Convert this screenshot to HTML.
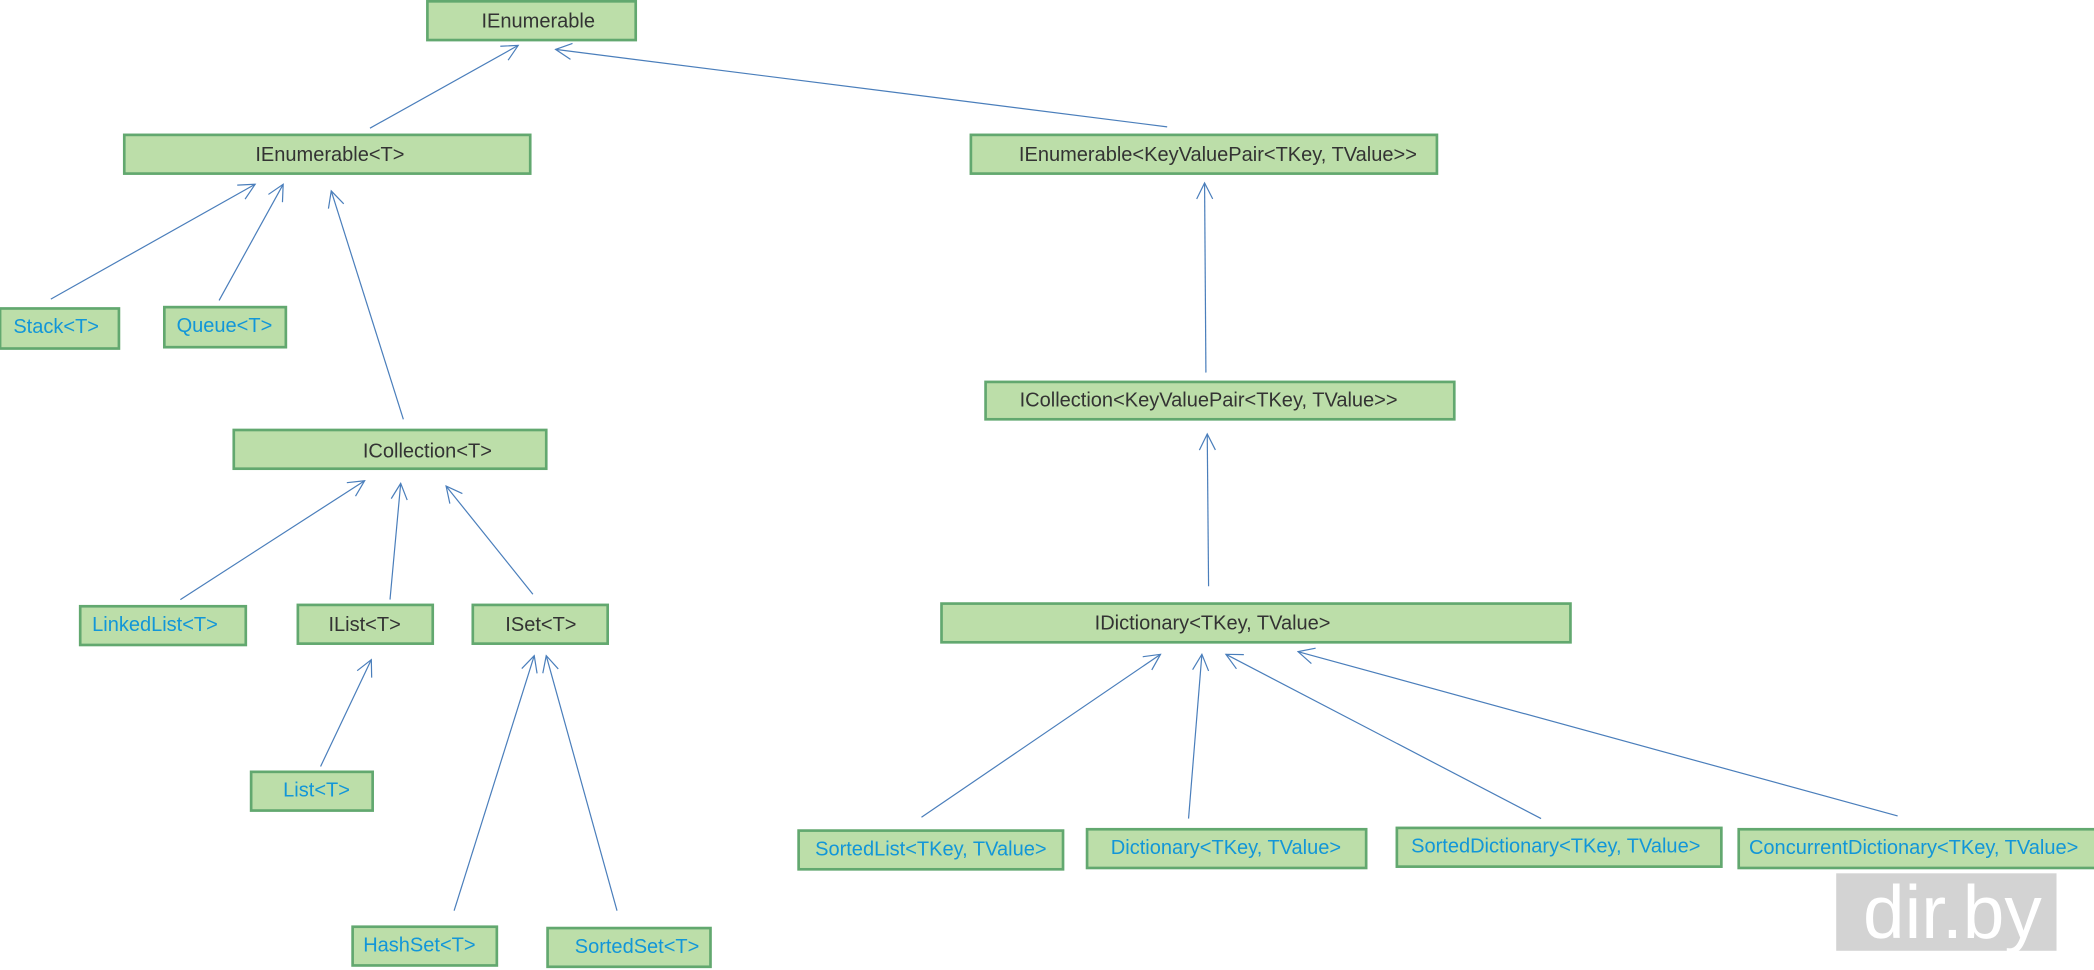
<!DOCTYPE html>
<html><head><meta charset="utf-8"><style>
html,body{margin:0;padding:0;background:#fff;}
svg{display:block;}
text{font-family:"Liberation Sans",Arial,sans-serif;font-size:15px;text-anchor:middle;dominant-baseline:central;}
.b{fill:#bcdea9;stroke:#62a86f;stroke-width:2;}
.d{fill:#333;}
.c{fill:#1296d8;}
.l{stroke:#4a7ebb;stroke-width:0.9;fill:none;marker-end:url(#a);}
</style></head><body>
<svg width="2094" height="970" viewBox="0 0 1568 726.4" xmlns="http://www.w3.org/2000/svg">
<defs><marker id="a" markerWidth="14" markerHeight="14" refX="13" refY="7" orient="auto" markerUnits="userSpaceOnUse"><path d="M1,1 L13,7 L1,13" fill="none" stroke="#4a7ebb" stroke-width="0.9"/></marker></defs>
<rect x="1375" y="654" width="165" height="58" fill="#d3d3d3"/>
<text x="1462" y="683" style="font-size:56px;fill:#fff">dir.by</text>

<line class="l" x1="277" y1="96" x2="388" y2="34"/>
<line class="l" x1="874" y1="95" x2="416" y2="37"/>
<line class="l" x1="38" y1="224" x2="191" y2="138"/>
<line class="l" x1="164" y1="225" x2="212" y2="138"/>
<line class="l" x1="302" y1="314" x2="248" y2="143"/>
<line class="l" x1="903" y1="279" x2="902" y2="137"/>
<line class="l" x1="135" y1="449" x2="273" y2="360"/>
<line class="l" x1="292" y1="449" x2="300" y2="362"/>
<line class="l" x1="399" y1="445" x2="334" y2="364"/>
<line class="l" x1="905" y1="439" x2="904" y2="325"/>
<line class="l" x1="240" y1="574" x2="278" y2="494"/>
<line class="l" x1="340" y1="682" x2="400" y2="491"/>
<line class="l" x1="462" y1="682" x2="409" y2="491"/>
<line class="l" x1="690" y1="612" x2="869" y2="490"/>
<line class="l" x1="890" y1="613" x2="900" y2="490"/>
<line class="l" x1="1154" y1="613" x2="918" y2="490"/>
<line class="l" x1="1421" y1="611" x2="972" y2="488"/>

<rect class="b" x="320" y="1" width="156" height="29"/><text class="d" x="403" y="16">IEnumerable</text>
<rect class="b" x="93" y="101" width="304" height="29"/><text class="d" x="247" y="116">IEnumerable&lt;T&gt;</text>
<rect class="b" x="727" y="101" width="349" height="29"/><text class="d" x="912" y="116">IEnumerable&lt;KeyValuePair&lt;TKey, TValue&gt;&gt;</text>
<rect class="b" x="0" y="231" width="89" height="30"/><text class="c" x="42" y="245">Stack&lt;T&gt;</text>
<rect class="b" x="123" y="230" width="91" height="30"/><text class="c" x="168" y="244">Queue&lt;T&gt;</text>
<rect class="b" x="175" y="322" width="234" height="29"/><text class="d" x="320" y="338">ICollection&lt;T&gt;</text>
<rect class="b" x="738" y="286" width="351" height="28"/><text class="d" x="905" y="300">ICollection&lt;KeyValuePair&lt;TKey, TValue&gt;&gt;</text>
<rect class="b" x="60" y="454" width="124" height="29"/><text class="c" x="116" y="468">LinkedList&lt;T&gt;</text>
<rect class="b" x="223" y="453" width="101" height="29"/><text class="d" x="273" y="468">IList&lt;T&gt;</text>
<rect class="b" x="354" y="453" width="101" height="29"/><text class="d" x="405" y="468">ISet&lt;T&gt;</text>
<rect class="b" x="705" y="452" width="471" height="29"/><text class="d" x="908" y="467">IDictionary&lt;TKey, TValue&gt;</text>
<rect class="b" x="188" y="578" width="91" height="29"/><text class="c" x="237" y="592">List&lt;T&gt;</text>
<rect class="b" x="264" y="694" width="108" height="29"/><text class="c" x="314" y="708">HashSet&lt;T&gt;</text>
<rect class="b" x="410" y="695" width="122" height="29"/><text class="c" x="477" y="709">SortedSet&lt;T&gt;</text>
<rect class="b" x="598" y="622" width="198" height="29"/><text class="c" x="697" y="636">SortedList&lt;TKey, TValue&gt;</text>
<rect class="b" x="814" y="621" width="209" height="29"/><text class="c" x="918" y="635">Dictionary&lt;TKey, TValue&gt;</text>
<rect class="b" x="1046" y="620" width="243" height="29"/><text class="c" x="1165" y="634">SortedDictionary&lt;TKey, TValue&gt;</text>
<rect class="b" x="1302" y="621" width="272" height="29"/><text class="c" x="1433" y="635">ConcurrentDictionary&lt;TKey, TValue&gt;</text>
</svg>
</body></html>
